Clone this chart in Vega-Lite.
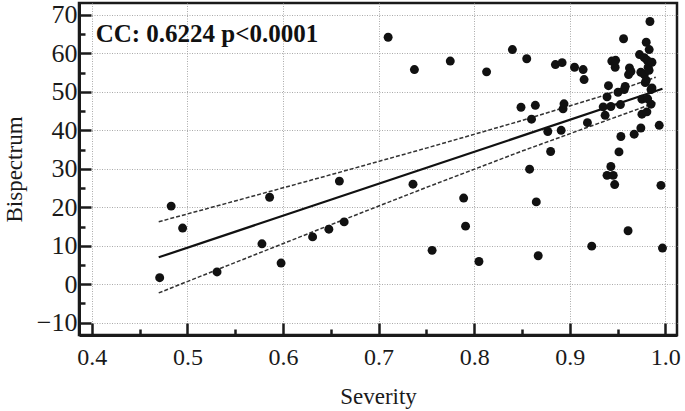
{
  "$schema": "https://vega.github.io/schema/vega-lite/v6.json",
  "width": 598,
  "height": 332,
  "autosize": {"type": "none"},
  "padding": {"left": 79, "top": 3, "right": 8, "bottom": 76},
  "background": "white",
  "config": {
    "view": {"stroke": "#1a1a1a", "strokeWidth": 2.5},
    "font": "Liberation Serif",
    "axis": {
      "labelFont": "Liberation Serif",
      "titleFont": "Liberation Serif",
      "labelFontSize": 24,
      "titleFontSize": 23,
      "titleFontWeight": "normal",
      "labelColor": "#1a1a1a",
      "titleColor": "#1a1a1a",
      "domainColor": "#1a1a1a",
      "domainWidth": 3,
      "tickColor": "#1a1a1a",
      "tickWidth": 2.5,
      "gridColor": "#aaa",
      "gridDash": [1, 1.5],
      "gridWidth": 1
    }
  },
  "datasets": {
    "pts": [
      {"severity": 0.471, "bispectrum": 1.7},
      {"severity": 0.483, "bispectrum": 20.3},
      {"severity": 0.495, "bispectrum": 14.6},
      {"severity": 0.531, "bispectrum": 3.2},
      {"severity": 0.578, "bispectrum": 10.5},
      {"severity": 0.586, "bispectrum": 22.6},
      {"severity": 0.598, "bispectrum": 5.5},
      {"severity": 0.631, "bispectrum": 12.3},
      {"severity": 0.648, "bispectrum": 14.3},
      {"severity": 0.659, "bispectrum": 26.8},
      {"severity": 0.664, "bispectrum": 16.2},
      {"severity": 0.710, "bispectrum": 64.2},
      {"severity": 0.736, "bispectrum": 26.0},
      {"severity": 0.7375, "bispectrum": 55.8},
      {"severity": 0.756, "bispectrum": 8.8},
      {"severity": 0.775, "bispectrum": 58.0},
      {"severity": 0.789, "bispectrum": 22.4},
      {"severity": 0.791, "bispectrum": 15.1},
      {"severity": 0.805, "bispectrum": 5.9},
      {"severity": 0.813, "bispectrum": 55.2},
      {"severity": 0.840, "bispectrum": 61.0},
      {"severity": 0.849, "bispectrum": 46.0},
      {"severity": 0.855, "bispectrum": 58.6},
      {"severity": 0.858, "bispectrum": 29.9},
      {"severity": 0.860, "bispectrum": 42.9},
      {"severity": 0.864, "bispectrum": 46.5},
      {"severity": 0.865, "bispectrum": 21.4},
      {"severity": 0.867, "bispectrum": 7.4},
      {"severity": 0.877, "bispectrum": 39.7},
      {"severity": 0.880, "bispectrum": 34.5},
      {"severity": 0.885, "bispectrum": 57.1},
      {"severity": 0.891, "bispectrum": 40.0},
      {"severity": 0.892, "bispectrum": 57.6},
      {"severity": 0.893, "bispectrum": 45.6},
      {"severity": 0.894, "bispectrum": 46.9},
      {"severity": 0.905, "bispectrum": 56.4},
      {"severity": 0.914, "bispectrum": 55.8},
      {"severity": 0.915, "bispectrum": 53.2},
      {"severity": 0.9185, "bispectrum": 42.0},
      {"severity": 0.923, "bispectrum": 9.9},
      {"severity": 0.935, "bispectrum": 46.1},
      {"severity": 0.937, "bispectrum": 43.9},
      {"severity": 0.939, "bispectrum": 48.7},
      {"severity": 0.9405, "bispectrum": 51.6},
      {"severity": 0.939, "bispectrum": 28.3},
      {"severity": 0.943, "bispectrum": 30.6},
      {"severity": 0.943, "bispectrum": 46.2},
      {"severity": 0.944, "bispectrum": 58.0},
      {"severity": 0.9455, "bispectrum": 28.3},
      {"severity": 0.947, "bispectrum": 25.9},
      {"severity": 0.9475, "bispectrum": 56.4},
      {"severity": 0.948, "bispectrum": 58.2},
      {"severity": 0.9505, "bispectrum": 49.9},
      {"severity": 0.9515, "bispectrum": 34.4},
      {"severity": 0.953, "bispectrum": 46.7},
      {"severity": 0.9535, "bispectrum": 38.4},
      {"severity": 0.9563, "bispectrum": 63.8},
      {"severity": 0.957, "bispectrum": 50.6},
      {"severity": 0.958, "bispectrum": 51.4},
      {"severity": 0.961, "bispectrum": 13.9},
      {"severity": 0.9615, "bispectrum": 54.5},
      {"severity": 0.9625, "bispectrum": 56.2},
      {"severity": 0.964, "bispectrum": 55.3},
      {"severity": 0.9674, "bispectrum": 39.0},
      {"severity": 0.973, "bispectrum": 59.7},
      {"severity": 0.9744, "bispectrum": 40.6},
      {"severity": 0.9744, "bispectrum": 55.1},
      {"severity": 0.9755, "bispectrum": 48.1},
      {"severity": 0.9755, "bispectrum": 44.2},
      {"severity": 0.978, "bispectrum": 58.9},
      {"severity": 0.978, "bispectrum": 54.5},
      {"severity": 0.979, "bispectrum": 52.4},
      {"severity": 0.980, "bispectrum": 62.9},
      {"severity": 0.980, "bispectrum": 53.0},
      {"severity": 0.9807, "bispectrum": 44.8},
      {"severity": 0.981, "bispectrum": 58.2},
      {"severity": 0.9815, "bispectrum": 48.2},
      {"severity": 0.982, "bispectrum": 56.4},
      {"severity": 0.983, "bispectrum": 55.6},
      {"severity": 0.9831, "bispectrum": 61.0},
      {"severity": 0.9839, "bispectrum": 68.3},
      {"severity": 0.985, "bispectrum": 50.6},
      {"severity": 0.985, "bispectrum": 46.8},
      {"severity": 0.986, "bispectrum": 57.7},
      {"severity": 0.986, "bispectrum": 51.0},
      {"severity": 0.9936, "bispectrum": 41.3},
      {"severity": 0.9954, "bispectrum": 25.7},
      {"severity": 0.997, "bispectrum": 9.4}
    ],
    "fit": [
      {"severity": 0.47, "bispectrum": 6.99},
      {"severity": 0.997, "bispectrum": 50.8}
    ],
    "bands": [
      {"band": "upper", "severity": 0.47, "bispectrum": 16.24},
      {"band": "upper", "severity": 0.55, "bispectrum": 21.64},
      {"band": "upper", "severity": 0.65, "bispectrum": 28.46},
      {"band": "upper", "severity": 0.75, "bispectrum": 35.38},
      {"band": "upper", "severity": 0.85, "bispectrum": 42.55},
      {"band": "upper", "severity": 0.93, "bispectrum": 48.63},
      {"band": "upper", "severity": 0.99, "bispectrum": 53.8},
      {"band": "lower", "severity": 0.47, "bispectrum": -2.26},
      {"band": "lower", "severity": 0.55, "bispectrum": 5.64},
      {"band": "lower", "severity": 0.65, "bispectrum": 15.46},
      {"band": "lower", "severity": 0.75, "bispectrum": 25.16},
      {"band": "lower", "severity": 0.85, "bispectrum": 34.61},
      {"band": "lower", "severity": 0.93, "bispectrum": 41.81},
      {"band": "lower", "severity": 0.99, "bispectrum": 47.2}
    ],
    "note": [
      {"severity": 0.404, "bispectrum": 65.0, "label": "CC: 0.6224 p<0.0001"}
    ]
  },
  "encoding": {
    "x": {
      "field": "severity",
      "type": "quantitative",
      "title": "Severity",
      "scale": {"domain": [0.3866, 1.0122], "nice": false, "zero": false},
      "axis": {
        "values": [0.4, 0.45, 0.5, 0.55, 0.6, 0.65, 0.7, 0.75, 0.8, 0.85, 0.9, 0.95, 1.0],
        "labelExpr": "round(datum.value*20) % 2 == 1 ? '' : format(datum.value, '.1f')",
        "tickSize": {"condition": {"test": "round(datum.value*20) % 2 == 1", "value": -6}, "value": -12},
        "gridOpacity": {"condition": {"test": "round(datum.value*20) % 2 == 1", "value": 0}, "value": 1},
        "labelPadding": 22,
        "titlePadding": 16
      }
    },
    "y": {
      "field": "bispectrum",
      "type": "quantitative",
      "title": "Bispectrum",
      "scale": {"domain": [-13.2, 73.1], "nice": false, "zero": false},
      "axis": {
        "values": [-10, -5, 0, 5, 10, 15, 20, 25, 30, 35, 40, 45, 50, 55, 60, 65, 70],
        "labelExpr": "datum.value % 10 != 0 ? '' : format(datum.value, 'd')",
        "tickSize": {"condition": {"test": "datum.value % 10 != 0", "value": -6}, "value": -12},
        "gridOpacity": {"condition": {"test": "datum.value % 10 != 0", "value": 0}, "value": 1},
        "labelFontSize": 26,
        "labelPadding": 14,
        "titlePadding": 10
      }
    }
  },
  "layer": [
    {
      "data": {"name": "bands"},
      "mark": {"type": "line", "color": "#333", "strokeWidth": 1.5, "strokeDash": [4, 2]},
      "encoding": {"detail": {"field": "band"}}
    },
    {
      "data": {"name": "fit"},
      "mark": {"type": "line", "color": "#111", "strokeWidth": 2.2},
      "encoding": {}
    },
    {
      "data": {"name": "pts"},
      "mark": {"type": "circle", "color": "#111", "opacity": 1, "size": 80},
      "encoding": {}
    },
    {
      "data": {"name": "note"},
      "mark": {"type": "text", "align": "left", "baseline": "middle", "fontSize": 25, "fontWeight": "bold", "font": "Liberation Serif", "color": "#111"},
      "encoding": {"text": {"field": "label"}}
    }
  ]
}
